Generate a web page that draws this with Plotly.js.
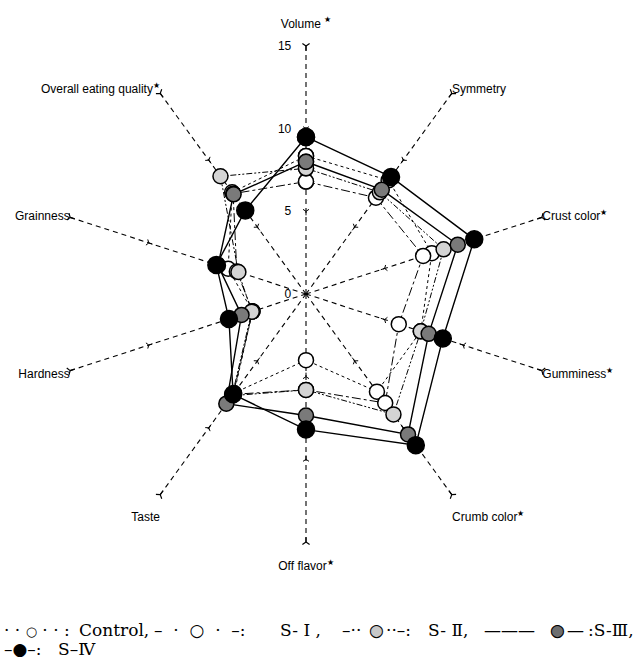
<!DOCTYPE html>
<html>
<head>
<meta charset="utf-8">
<script src="https://cdn.plot.ly/plotly-3.0.1.min.js"></script>
<style>html,body{margin:0;padding:0;background:#fff;}#chart{width:642px;height:659px;}</style>
</head>
<body>
<div id="chart"></div>
<script>
// ---- data ----
const categories = ['Volume','Symmetry','Crust color','Gumminess','Crumb color','Off flavor','Taste','Hardness','Grainness','Overall eating quality'];
const starred    = [true, false, true, true, true, true, false, false, false, true];
const radialTicks = [0, 5, 10, 15];

const control = [8.35, 8.5, 8.0, 7.3, 7.3, 4.0, 7.4, 3.4, 4.95, 7.6];
const s1      = [6.8, 7.2, 7.45, 5.9, 8.15, 5.8, 7.5, 3.4, 4.4, 7.5];
const s2      = [7.6, 7.6, 8.75, 7.3, 9.0, 5.8, 7.6, 3.45, 4.3, 8.8];
const s3      = [8.0, 7.8, 9.65, 7.8, 10.5, 7.35, 8.2, 4.1, 5.6, 7.45];
const s4      = [9.5, 8.75, 10.7, 8.7, 11.3, 8.2, 7.5, 4.9, 5.7, 6.25];

const seriesNames = ['Control', 'S- Ⅰ', 'S- Ⅱ', 'S-Ⅲ', 'S-Ⅳ'];

// ---- helpers ----
const close = a => a.concat([a[0]]);
const thetaClosed = close(categories);

function series(name, vals, dash, width, fill, msize) {
  return {
    type: 'scatterpolar', name: name, mode: 'lines+markers',
    r: close(vals), theta: thetaClosed,
    line: {color: '#000', width: width, dash: dash},
    marker: {size: msize, color: fill, line: {color: '#000', width: 1.5}},
    hoverinfo: 'skip', showlegend: false, cliponaxis: false
  };
}

// spoke tick marks at 5 and 10, arrow ends at 15
const tickTheta = [], tickR = [], tickAng = [];
const endTheta = [], endR = [], endAng = [];
categories.forEach((c, i) => {
  const a = i * 360 / categories.length;
  [radialTicks[1], radialTicks[2]].forEach(v => { tickTheta.push(c); tickR.push(v); tickAng.push(a); });
  endTheta.push(c); endR.push(radialTicks[3]); endAng.push(a);
});

const traces = [
  {type: 'scatterpolar', mode: 'markers', r: tickR, theta: tickTheta,
   marker: {symbol: 'y-down', size: 5, angle: tickAng, line: {color: '#000', width: 1}},
   hoverinfo: 'skip', showlegend: false, cliponaxis: false},
  {type: 'scatterpolar', mode: 'markers', r: endR, theta: endTheta,
   marker: {symbol: 'y-down', size: 6, angle: endAng, line: {color: '#000', width: 1.2}},
   hoverinfo: 'skip', showlegend: false, cliponaxis: false},
  series(seriesNames[0], control, 'dot', 1, '#ffffff', 15),
  series(seriesNames[1], s1, 'dashdot', 1, '#ffffff', 15),
  series(seriesNames[2], s2, '6px,2px,2px,2px,2px,2px', 1, '#d4d4d4', 15),
  series(seriesNames[3], s3, 'solid', 1.4, '#7a7a7a', 15),
  series(seriesNames[4], s4, 'solid', 1.4, '#000000', 17)
];

// labels: the figure is slightly taller than wide, so top/bottom labels sit a line further out
const NB = '\u00a0';
const tickText = categories.map((c, i) => {
  let t = starred[i] ? c + (i === 0 ? ' ' : '') + '<sup>★</sup>' : c;
  if (i === 0) t = t + '<br>' + NB;
  if (i === 4 || i === 5 || i === 6) t = NB + '<br>' + t;
  return t;
});

const R = 248, cx = 306, cy = 294, W = 642, H = 659;

// legend built from text pieces
const serif = 'DejaVu Serif, Liberation Serif, serif';
function txt(x, y, text, color) {
  return {xref: 'paper', yref: 'paper', x: x / W, y: 1 - y / H, xanchor: 'left', yanchor: 'middle',
          showarrow: false, font: {family: serif, size: 17, color: color || '#000'}, text: text};
}
const L1 = 630, L2 = 649;
const small = s => '<span style="font-size:13px">' + s + '</span>';
const legendAnn = [
  txt(2, L1, '· · ' + small('○') + ' · · :'), txt(77, L1, seriesNames[0] + ','),
  txt(152, L1, '–  ·  ○  ·  –:'), txt(278, L1, seriesNames[1] + ' ,'),
  txt(340, L1, '–··'), txt(367, L1, '●', '#c8c8c8'), txt(367, L1, '○'), txt(384, L1, '··–:'), txt(426, L1, seriesNames[2] + ','),
  txt(482, L1, '———'), txt(548, L1, '●', '#6e6e6e'), txt(548, L1, '○'), txt(565, L1, '—'), txt(586, L1, ':' + seriesNames[3] + ','),
  txt(2, L2, '–●–:'), txt(56, L2, seriesNames[4].replace('-', '–'))
];

const layout = {
  width: W, height: H,
  margin: {l: 0, r: 0, t: 0, b: 0},
  paper_bgcolor: '#fff',
  font: {family: 'Liberation Sans, Arial, sans-serif', color: '#000', size: 12},
  showlegend: false,
  polar: {
    domain: {x: [(cx - R) / W, (cx + R) / W], y: [(H - cy - R) / H, (H - cy + R) / H]},
    bgcolor: '#fff',
    angularaxis: {
      type: 'category', categoryarray: categories,
      rotation: 90, direction: 'clockwise',
      showline: false, showgrid: true, gridcolor: '#000', gridwidth: 1.1, griddash: '5px,4px',
      ticks: '', tickmode: 'array', tickvals: categories, ticktext: tickText,
      tickfont: {size: 12, family: 'Liberation Sans, Arial, sans-serif'}
    },
    radialaxis: {
      range: [0, 15], angle: 90, side: 'counterclockwise',
      showline: false, showgrid: false, ticks: 'outside', ticklen: 10, tickcolor: 'rgba(0,0,0,0)',
      tickmode: 'array', tickvals: radialTicks, ticktext: radialTicks.map(String),
      tickfont: {size: 12}, tickangle: 90
    }
  },
  annotations: legendAnn
};

Plotly.newPlot('chart', traces, layout, {staticPlot: true, displayModeBar: false});
</script>
</body>
</html>
